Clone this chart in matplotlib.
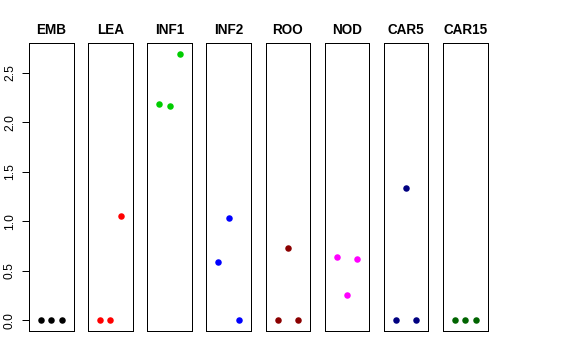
import matplotlib
matplotlib.use("Agg")
import matplotlib.pyplot as plt

plt.rcParams['font.family'] = ['Liberation Sans', 'DejaVu Sans']

tissues = ["EMB", "LEA", "INF1", "INF2", "ROO", "NOD", "CAR5", "CAR15"]
colors = ["#000000", "#FF0000", "#00CD00", "#0000FF", "#8B0000", "#FF00FF", "#000080", "#006400"]
rep_x = [1, 2, 3]
EMB = [0.0, 0.0, 0.0]
LEA = [0.0, 0.0, 1.056]
INF1 = [2.187, 2.16, 2.69]
INF2 = [0.589, 1.036, 0.0]
ROO = [0.0, 0.730, 0.0]
NOD = [0.642, 0.252, 0.616]
CAR5 = [0.0, 1.339, 0.0]
CAR15 = [0.0, 0.0, 0.0]
values = [EMB, LEA, INF1, INF2, ROO, NOD, CAR5, CAR15]
yticks = [0.0, 0.5, 1.0, 1.5, 2.0, 2.5]
ytick_labels = ["0.0", "0.5", "1.0", "1.5", "2.0", "2.5"]

W, H = 576, 360
fig = plt.figure(figsize=(W / 72, H / 72), dpi=72)
ymax = max(max(v) for v in values)
ext = 0.04 * ymax
left0, step, pw = 29.0, 59.15, 44.5
top, bottom = 43.0, 331.0
for i, (name, col, vals) in enumerate(zip(tissues, colors, values)):
    x0 = left0 + i * step
    ax = fig.add_axes([x0 / W, (H - bottom) / H, pw / W, (bottom - top) / H])
    ax.plot(rep_x, vals, 'o', color=col, ms=6.5, mec='none')
    ax.set_xlim(-0.16, 4.16)
    ax.set_ylim(-ext, ymax + ext)
    ax.set_xticks([])
    for s in ax.spines.values():
        s.set_linewidth(1.0)
        s.set_color('black')
    ax.set_title(name, fontsize=13.5, fontweight='bold', pad=9)
    if i == 0:
        ax.set_yticks(yticks)
        ax.set_yticklabels(ytick_labels, rotation=90, va='center', fontsize=12)
        ax.tick_params(axis='y', length=7, width=1, pad=6)
    else:
        ax.set_yticks([])

fig.savefig("out.png", dpi=72)
